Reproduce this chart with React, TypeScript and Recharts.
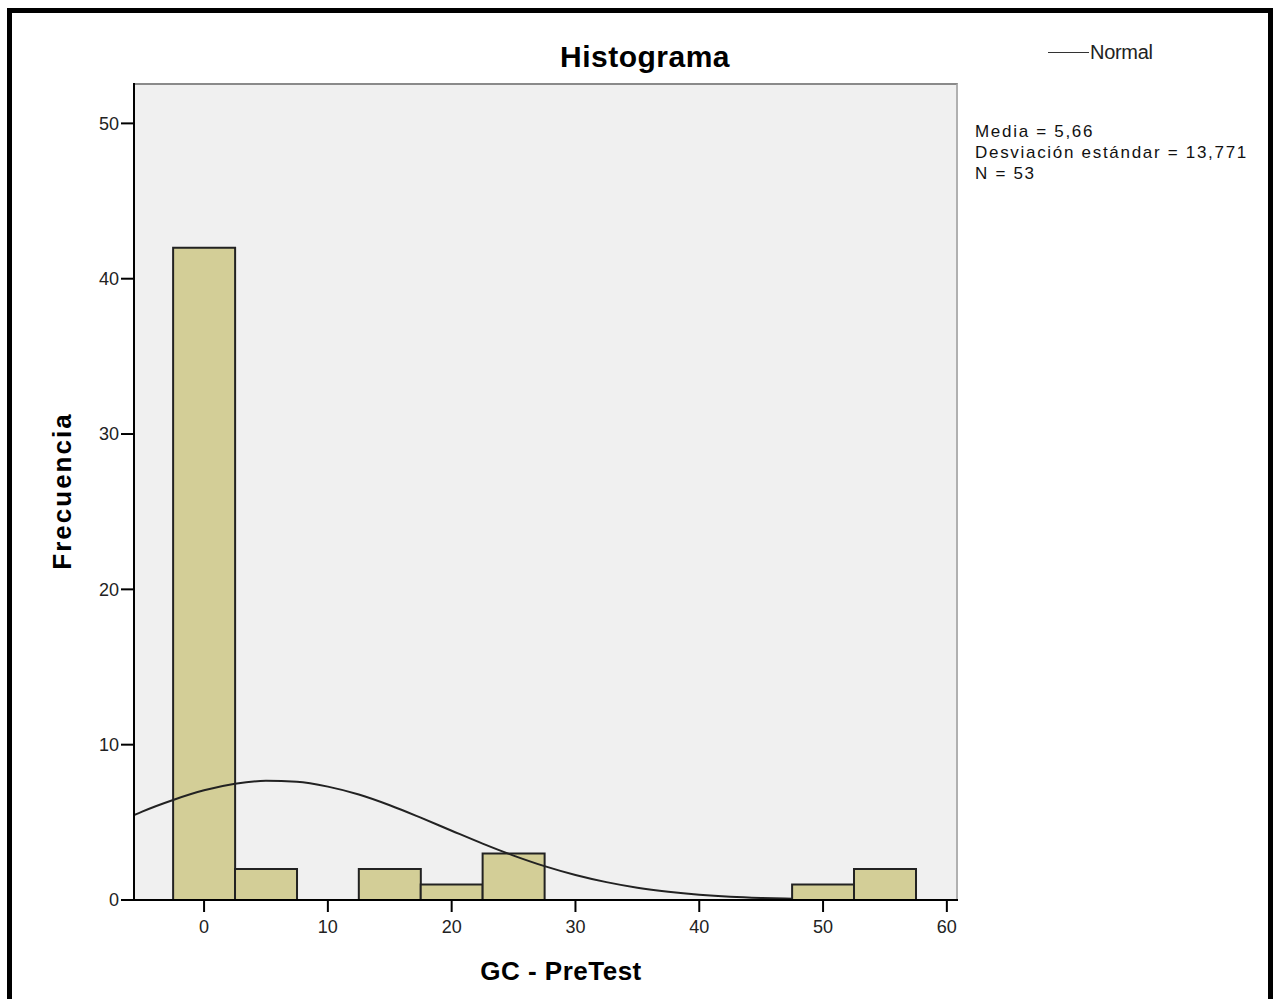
import { ComposedChart, Bar, Line, XAxis, YAxis } from 'recharts';

// histogram bins (centre of each 5-wide bin) and counts
const binCentres = [0, 5, 10, 15, 20, 25, 30, 35, 40, 45, 50, 55];
const binCounts = [42, 2, 0, 2, 1, 3, 0, 0, 0, 0, 1, 2];

// normal curve
const curveX = [-5.66, -5, -2.5, 0, 2.5, 5, 7.5, 10, 12.5, 15, 17.5, 20, 22.5, 25, 27.5, 30, 32.5, 35, 37.5, 40, 42.5, 45, 47.5];
const curveY = [5.46, 5.69, 6.44, 7.06, 7.48, 7.67, 7.61, 7.3, 6.79, 6.1, 5.3, 4.46, 3.63, 2.86, 2.18, 1.61, 1.15, 0.79, 0.53, 0.34, 0.21, 0.13, 0.08];

const xTicks = [0, 10, 20, 30, 40, 50, 60];
const yTicks = [0, 10, 20, 30, 40, 50];

const bins = binCentres.map((x, i) => ({ x, count: binCounts[i] }));
const curve = curveX.map((x, i) => ({ x, y: curveY[i] }));

const font = '"Liberation Sans", Arial, sans-serif';
const xDomain = [-5.66, 60.9];
const yDomain = [0, 52.6];

export default function App() {
  return (
    <div style={{ position: 'absolute', left: 0, top: 0, width: 1273, height: 999, background: '#fff', fontFamily: font }}>
      <div style={{ position: 'absolute', left: 7, top: 8, width: 1266, height: 1000, border: '5px solid #000', boxSizing: 'border-box' }} />
      {/* plot background */}
      <div style={{ position: 'absolute', left: 134, top: 83, width: 824, height: 817, background: '#f0f0f0', borderTop: '2px solid #8a8a8a', borderRight: '2px solid #b0b0b0', boxSizing: 'border-box' }} />
      <div style={{ position: 'absolute', left: 495, top: 40, width: 300, textAlign: 'center', fontSize: 30, fontWeight: 'bold', letterSpacing: 0.5 }}>Histograma</div>
      <div style={{ position: 'absolute', left: 1048, top: 52, width: 41, height: 0, borderTop: '1.5px solid #333' }} />
      <div style={{ position: 'absolute', left: 1090, top: 41, fontSize: 20, color: '#222', letterSpacing: -0.3 }}>Normal</div>
      <div style={{ position: 'absolute', left: 975, top: 121, fontSize: 17, lineHeight: '21px', letterSpacing: 1.7, color: '#111' }}>
        Media = 5,66<br />Desviación estándar = 13,771<br />N = 53
      </div>
      <div style={{ position: 'absolute', left: 411, top: 956, width: 300, textAlign: 'center', fontSize: 26, fontWeight: 'bold', letterSpacing: 0.5 }}>GC - PreTest</div>
      <div style={{ position: 'absolute', left: 62, top: 491, transform: 'translate(-50%, -50%) rotate(-90deg)', fontSize: 26, fontWeight: 'bold', letterSpacing: 2, whiteSpace: 'nowrap' }}>Frecuencia</div>
      <ComposedChart
        width={1273}
        height={999}
        data={bins}
        margin={{ top: 83, right: 315, bottom: 54, left: 74 }}
        barCategoryGap={0}
        barGap={0}
        style={{ position: 'absolute', left: 0, top: 0 }}
      >
        <XAxis
          xAxisId="bins"
          dataKey="x"
          type="number"
          domain={xDomain}
          allowDataOverflow
          ticks={xTicks}
          height={45}
          stroke="#000"
          tickSize={12}
          tickMargin={8}
          tick={{ fontSize: 18, fill: '#222', fontFamily: font }}
          tickLine={{ stroke: '#000', strokeWidth: 2 }}
          axisLine={{ stroke: '#000', strokeWidth: 2 }}
        />
        <XAxis xAxisId="curve" dataKey="x" type="number" domain={xDomain} allowDataOverflow hide />
        <YAxis
          type="number"
          domain={yDomain}
          ticks={yTicks}
          width={60}
          stroke="#000"
          tickSize={13}
          tickMargin={2}
          tick={{ fontSize: 18, fill: '#222', fontFamily: font }}
          tickLine={{ stroke: '#000', strokeWidth: 2 }}
          axisLine={{ stroke: '#000', strokeWidth: 2 }}
        />
        <Bar xAxisId="bins" dataKey="count" fill="#d3ce97" stroke="#222" strokeWidth={2} isAnimationActive={false} />
        <Line xAxisId="curve" data={curve} dataKey="y" type="monotone" stroke="#222" strokeWidth={2} dot={false} isAnimationActive={false} />
      </ComposedChart>
    </div>
  );
}
